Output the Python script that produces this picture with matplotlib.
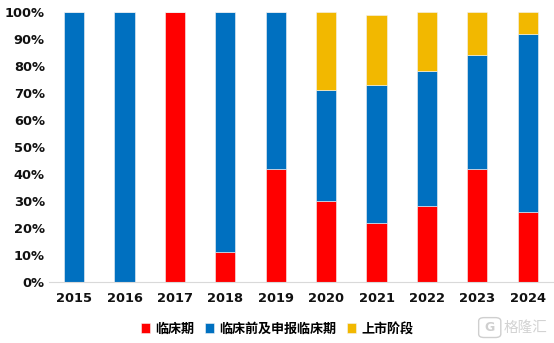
import matplotlib
matplotlib.use("Agg")
import matplotlib.pyplot as plt
from matplotlib.patches import FancyBboxPatch
from matplotlib.ticker import PercentFormatter

plt.rcParams["font.family"] = ["DejaVu Sans", "Noto Sans CJK SC"]

years = ["2015", "2016", "2017", "2018", "2019", "2020", "2021", "2022", "2023", "2024"]
clinical = [0, 0, 100, 11, 42, 30, 22, 28, 42, 26]          # 临床期
preclinical = [100, 100, 0, 89, 58, 41, 51, 50, 42, 66]     # 临床前及申报临床期
marketed = [0, 0, 0, 0, 0, 29, 26, 22, 16, 8]               # 上市阶段

series = [
    ("临床期", clinical, "#FF0000"),
    ("临床前及申报临床期", preclinical, "#0070C0"),
    ("上市阶段", marketed, "#F2B800"),
]

fig = plt.figure(figsize=(5.54, 3.43), dpi=100)
ax = fig.add_axes([0.0884, 0.178, 0.9096, 0.787])

x = list(range(len(years)))
bottom = [0] * len(years)
handles = []
for name, vals, color in series:
    h = ax.bar(x, [v / 100 for v in vals], width=0.4, bottom=[b / 100 for b in bottom],
               color=color, edgecolor="#F4F4F4", linewidth=0.4, label=name)
    handles.append(h)
    bottom = [b + v for b, v in zip(bottom, vals)]

ax.set_xlim(-0.5, len(years) - 0.5)
ax.set_ylim(0, 1)
ax.set_yticks([i / 10 for i in range(11)])
ax.yaxis.set_major_formatter(PercentFormatter(1.0, decimals=0))
ax.set_xticks(x)
ax.set_xticklabels(years)
ax.tick_params(axis="both", length=0, labelsize=9.4)
ax.tick_params(axis="x", pad=7)
ax.tick_params(axis="y", pad=3)
for lab in ax.get_xticklabels() + ax.get_yticklabels():
    lab.set_fontweight("bold")
    lab.set_color("#111111")

for side in ("left", "right", "top"):
    ax.spines[side].set_visible(False)
ax.spines["bottom"].set_color("#D9D9D9")
ax.spines["bottom"].set_linewidth(0.8)

leg = fig.legend(handles=handles, loc="center", bbox_to_anchor=(0.5, 0.042), ncol=3,
                 frameon=False, handlelength=0.7, handleheight=0.7, handletextpad=0.4,
                 columnspacing=0.8,
                 prop={"family": ["Noto Sans CJK SC"], "weight": "bold", "size": 9.4})

# watermark logo in the lower right corner
logo = FancyBboxPatch((0.868, 0.02), 0.032, 0.05, boxstyle="round,pad=0.004,rounding_size=0.01",
                      transform=fig.transFigure, facecolor="none", edgecolor="#CFCFCF", linewidth=1.0)
fig.patches.append(logo)
fig.text(0.884, 0.045, "G", ha="center", va="center", fontsize=9, color="#CFCFCF", fontweight="bold")
fig.text(0.909, 0.045, "格隆汇", ha="left", va="center", fontsize=10.5, color="#D3D3D3",
         family=["Noto Sans CJK SC"])

fig.savefig("out.png", dpi=100)
